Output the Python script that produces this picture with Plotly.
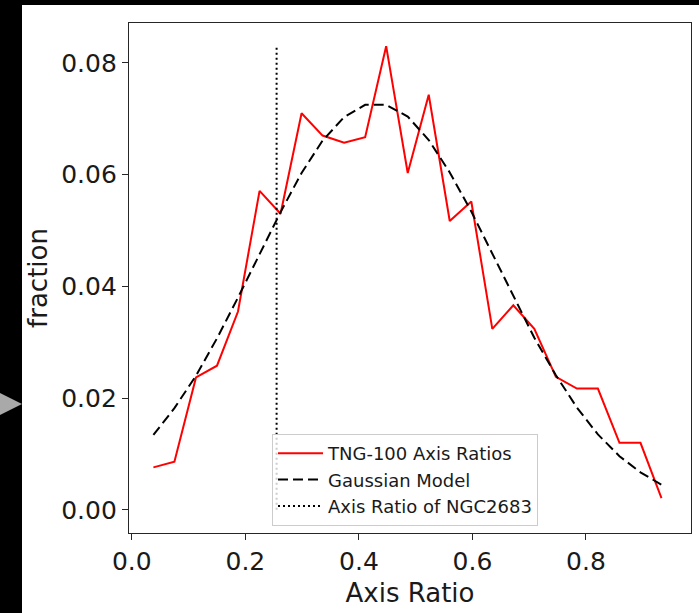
import plotly.graph_objects as go

# ---- data ----
axis_ratio = [0.038, 0.075, 0.113, 0.150, 0.187, 0.225, 0.262, 0.299, 0.336,
              0.374, 0.411, 0.448, 0.486, 0.523, 0.560, 0.598, 0.635, 0.672,
              0.709, 0.747, 0.784, 0.821, 0.859, 0.896, 0.933]
tng_fraction = [0.0076, 0.0086, 0.0237, 0.0258, 0.0355, 0.0571, 0.0530, 0.0710,
                0.0670, 0.0657, 0.0667, 0.0830, 0.0603, 0.0743, 0.0517, 0.0552,
                0.0324, 0.0366, 0.0324, 0.0238, 0.0217, 0.0217, 0.0120, 0.0120,
                0.0021]
gauss_fraction = [0.0134, 0.0182, 0.0240, 0.0307, 0.0380, 0.0457, 0.0533, 0.0603,
                  0.0661, 0.0703, 0.0725, 0.0725, 0.0704, 0.0662, 0.0604, 0.0534,
                  0.0458, 0.0381, 0.0308, 0.0241, 0.0183, 0.0135, 0.0096, 0.0067,
                  0.0045]
ngc_ratio = [0.255, 0.255]
ngc_span = [0.0, 0.0829]
x_ticks = [0.0, 0.2, 0.4, 0.6, 0.8]
y_ticks = [0.00, 0.02, 0.04, 0.06, 0.08]

FONT = "DejaVu Sans"
INK = "#1a1a1a"
FRAME = "#262626"

fig = go.Figure()
fig.add_trace(go.Scatter(x=axis_ratio, y=tng_fraction, mode="lines",
                         line=dict(color="#ff0000", width=2),
                         name="TNG-100 Axis Ratios", legendgroup="a"))
fig.add_trace(go.Scatter(x=axis_ratio, y=gauss_fraction, mode="lines",
                         line=dict(color="#000000", width=2, dash="10px,5px"),
                         name="Gaussian Model", legendgroup="b"))
fig.add_trace(go.Scatter(x=ngc_ratio, y=ngc_span, mode="lines",
                         line=dict(color="#000000", width=2, dash="2px,3px"),
                         name="Axis Ratio of NGC2683", legendgroup="c"))

L, R, T, B = 129, 8, 23, 80
W, H = 699, 613
pw, ph = W - L - R, H - T - B


def px(x):
    return (x - L) / pw


def py(y):
    return (H - B - y) / ph


shapes = [
    # black strip on the left and on top of the picture
    dict(type="rect", xref="paper", yref="paper", x0=px(-2), x1=px(22),
         y0=py(H + 2), y1=py(-2), fillcolor="black", line=dict(width=0), layer="above"),
    dict(type="rect", xref="paper", yref="paper", x0=px(-2), x1=px(W + 2),
         y0=py(5), y1=py(-2), fillcolor="black", line=dict(width=0), layer="above"),
    # grey triangle marker
    dict(type="path", xref="paper", yref="paper",
         path=f"M {px(0)} {py(393)} L {px(22)} {py(404)} L {px(0)} {py(415)} Z",
         fillcolor="#a9a9a9", line=dict(width=0), layer="above"),
]

axis_common = dict(showgrid=False, zeroline=False, showline=True, mirror=True,
                   linecolor=FRAME, linewidth=1.3, ticks="outside", ticklen=6,
                   tickwidth=1.3, tickcolor=FRAME, automargin=False,
                   tickfont=dict(family=FONT, size=25, color=INK))

fig.update_layout(
    width=W, height=H,
    margin=dict(l=L, r=R, t=T, b=B, pad=0),
    paper_bgcolor="white", plot_bgcolor="white",
    showlegend=True,
    legend=dict(x=px(272), y=py(434), xanchor="left", yanchor="top",
                bgcolor="rgba(255,255,255,0.8)", bordercolor="#cccccc",
                borderwidth=1, font=dict(family=FONT, size=18, color=INK),
                tracegroupgap=0, itemwidth=45, entrywidth=272,
                entrywidthmode="pixels"),
    xaxis=dict(range=[-0.005, 0.985], tickvals=x_ticks, tickformat=".1f",
               title=dict(text="Axis Ratio", font=dict(family=FONT, size=26, color=INK),
                          standoff=8),
               **axis_common),
    yaxis=dict(range=[-0.00415, 0.08715], tickvals=y_ticks, tickformat=".2f",
               title=dict(text="fraction", font=dict(family=FONT, size=26, color=INK),
                          standoff=6),
               **axis_common),
    shapes=shapes,
)

fig.write_html("out.html")
